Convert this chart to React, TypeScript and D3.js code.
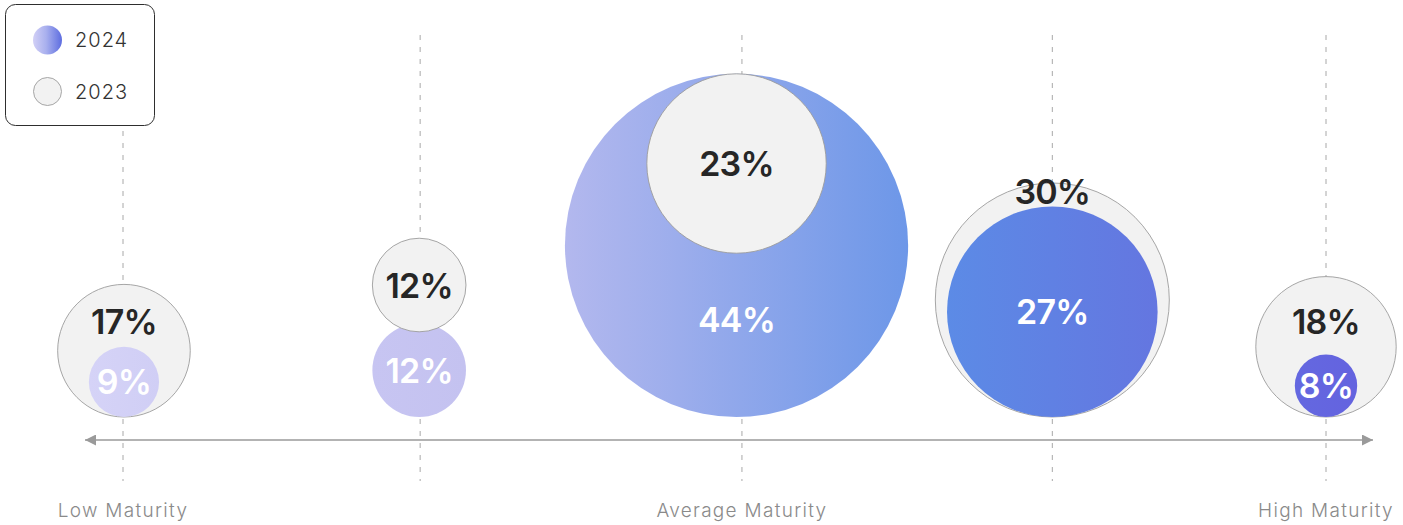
import React from "react";
import * as d3 from "d3";

// ---- data ----
const categories = ["Low", "LowMid", "Average", "MidHigh", "High"];
const guideIndex = [0, 24.7, 51.45, 77.25, 100]; // dashed guide positions along maturity axis
const bubbleIndex = [0.08, 24.62, 51.0, 77.25, 100]; // bubble positions along maturity axis
const values2024 = [9, 12, 44, 27, 8];
const values2023 = [17, 12, 23, 30, 18];
const axisLabels = [
  { idx: 0, text: "Low Maturity" },
  { idx: 2, text: "Average Maturity" },
  { idx: 4, text: "High Maturity" },
];
const legendItems = ["2024", "2023"];

// ---- styles ----
const grad2024Left = ["#d5d3f7", "#c7c5f2", "#b3b8ee", "#5c8be6", "#6468e0"];
const grad2024Right = ["#d0cef5", "#c4c2f0", "#6d97e8", "#6476e0", "#6463df"];
const FONT = "Inter, 'Noto Sans', sans-serif";

const W = 1403;
const H = 525;
const BASE = 417;
const AXIS_Y = 440;

export default function App() {
  const x = d3.scaleLinear().domain([0, 100]).range([123, 1326]);
  const r = d3.scaleLinear().domain([0, 1]).range([0, 3.9]);

  const bubbles = categories.map((c, i) => {
    const cx = x(bubbleIndex[i]);
    const r24 = r(values2024[i]);
    const r23 = r(values2023[i]);
    const cy24 = BASE - r24;
    let cy23: number;
    let label23y: number;
    let label24y: number;
    let grayOnTop: boolean;
    if (values2023[i] === values2024[i]) {
      cy23 = cy24 - 2 * r24 * 0.91;
      label23y = cy23;
      label24y = cy24;
      grayOnTop = true;
    } else if (values2023[i] < values2024[i]) {
      cy23 = cy24 - r24 + r23;
      label23y = cy23;
      label24y = (cy23 + r23 + BASE) / 2 - 16;
      grayOnTop = true;
    } else {
      cy23 = BASE - r23;
      const innerTop = cy24 - r24;
      label23y = Math.min((cy23 - r23 + innerTop) / 2 + 6, innerTop - 15);
      label24y = cy24;
      grayOnTop = false;
    }
    return { c, i, cx, r24, r23, cy24, cy23, label23y, label24y, grayOnTop };
  });

  const labelStyle: React.CSSProperties = {
    fontFamily: FONT,
    fontWeight: 600,
    fontSize: 34,
    letterSpacing: -0.8,
  };

  return (
    <svg
      width={W}
      height={H}
      style={{ position: "absolute", left: 0, top: 0, background: "#fff" }}
    >
      <defs>
        {bubbles.map((b) => (
          <linearGradient key={b.c} id={`g24-${b.i}`} x1="0" x2="1" y1="0" y2="0">
            <stop offset="0" stopColor={grad2024Left[b.i]} />
            <stop offset="1" stopColor={grad2024Right[b.i]} />
          </linearGradient>
        ))}
        <linearGradient id="gLegend" x1="0" x2="1" y1="0" y2="0">
          <stop offset="0" stopColor="#d2d0f6" />
          <stop offset="0.45" stopColor="#a9b0ee" />
          <stop offset="1" stopColor="#5d6de0" />
        </linearGradient>
        <marker id="arrowEnd" viewBox="0 0 10 10" refX="10" refY="5" markerWidth="15" markerHeight="11" markerUnits="userSpaceOnUse" orient="auto">
          <path d="M0,0 L10,5 L0,10 Z" fill="#9a9a9a" />
        </marker>
        <marker id="arrowStart" viewBox="0 0 10 10" refX="0" refY="5" markerWidth="15" markerHeight="11" markerUnits="userSpaceOnUse" orient="auto">
          <path d="M10,0 L0,5 L10,10 Z" fill="#9a9a9a" />
        </marker>
      </defs>

      {/* dashed guide lines */}
      {categories.map((c, i) => (
        <line
          key={`v-${c}`}
          x1={x(guideIndex[i])}
          x2={x(guideIndex[i])}
          y1={35}
          y2={481}
          stroke="#a8a8a8"
          strokeWidth={1}
          strokeDasharray="5,7"
        />
      ))}

      {/* axis */}
      <line
        x1={85}
        x2={1373}
        y1={AXIS_Y}
        y2={AXIS_Y}
        stroke="#9a9a9a"
        strokeWidth={1.5}
        markerStart="url(#arrowStart)"
        markerEnd="url(#arrowEnd)"
      />

      {/* bubbles */}
      {bubbles.map((b) => {
        const gray = (
          <circle key="g" cx={b.cx} cy={b.cy23} r={b.r23} fill="#f2f2f2" stroke="#9c9c9c" strokeWidth={0.9} />
        );
        const blue = <circle key="b" cx={b.cx} cy={b.cy24} r={b.r24} fill={`url(#g24-${b.i})`} />;
        return <g key={`b-${b.c}`}>{b.grayOnTop ? [blue, gray] : [gray, blue]}</g>;
      })}

      {/* labels */}
      {bubbles.map((b) => (
        <g key={`l-${b.c}`}>
          <text x={b.cx} y={b.label23y} textAnchor="middle" dominantBaseline="central" fill="#262626" style={labelStyle}>
            {values2023[b.i]}%
          </text>
          <text x={b.cx} y={b.label24y} textAnchor="middle" dominantBaseline="central" fill="#ffffff" style={labelStyle}>
            {values2024[b.i]}%
          </text>
        </g>
      ))}

      {/* bottom labels */}
      {axisLabels.map((a) => (
        <text
          key={a.text}
          x={x(guideIndex[a.idx])}
          y={510}
          textAnchor="middle"
          dominantBaseline="central"
          fill="#8a8a8a"
          style={{ fontFamily: FONT, fontWeight: 300, fontSize: 19, letterSpacing: 1.3 }}
        >
          {a.text}
        </text>
      ))}

      {/* legend */}
      <g>
        <rect x={5.5} y={4.5} width={149} height={121} rx={10} fill="#fff" stroke="#2e2e2e" strokeWidth={1} />
        {legendItems.map((l, i) => (
          <g key={l} transform={`translate(0,${40 + i * 51.5})`}>
            {i === 0 ? (
              <circle cx={47.5} cy={0} r={14.5} fill="url(#gLegend)" />
            ) : (
              <circle cx={47.5} cy={0} r={14} fill="#f2f2f2" stroke="#9c9c9c" strokeWidth={0.9} />
            )}
            <text
              x={75}
              y={0}
              dominantBaseline="central"
              fill="#333"
              style={{ fontFamily: FONT, fontWeight: 300, fontSize: 20, letterSpacing: 1 }}
            >
              {l}
            </text>
          </g>
        ))}
      </g>
    </svg>
  );
}
